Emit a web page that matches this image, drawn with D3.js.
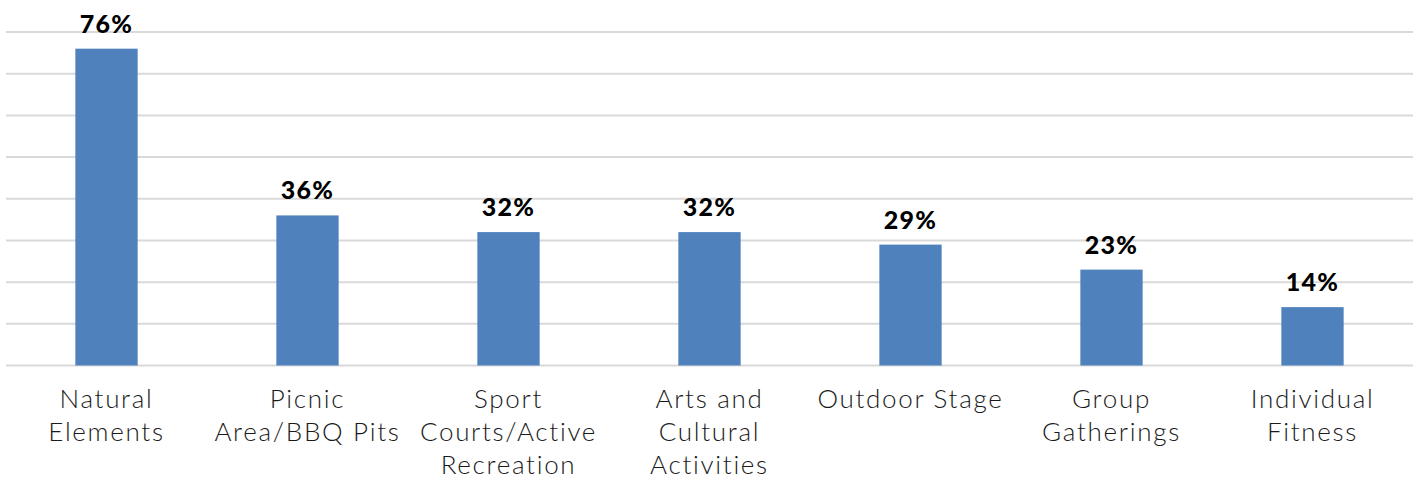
<!DOCTYPE html>
<html>
<head>
<meta charset="utf-8">
<script src="https://cdn.jsdelivr.net/npm/d3@7"></script>
<style>
  body { margin: 0; background: #fff; }
  svg text { font-family: "Lato", "Open Sans", sans-serif; }
</style>
</head>
<body>
<div id="chart"></div>
<script>
// categories, each as lines of the wrapped label
var categories = [
  ["Natural", "Elements"],
  ["Picnic", "Area/BBQ Pits"],
  ["Sport", "Courts/Active", "Recreation"],
  ["Arts and", "Cultural", "Activities"],
  ["Outdoor Stage"],
  ["Group", "Gatherings"],
  ["Individual", "Fitness"]
];
var values = [76, 36, 32, 32, 29, 23, 14];
var gridTicks = [0, 10, 20, 30, 40, 50, 60, 70, 80];

var w = 1422, h = 479;
var margin = { top: 32, right: 9, bottom: 113.5, left: 6 };

var svg = d3.select('#chart').append('svg')
  .attr('width', w)
  .attr('height', h);

var x = d3.scaleBand()
  .domain(d3.range(categories.length))
  .range([margin.left, w - margin.right])
  .paddingInner(0.69)
  .paddingOuter(0.345);

var y = d3.scaleLinear()
  .domain([0, 80])
  .range([h - margin.bottom, margin.top]);

// gridlines
svg.append('g')
  .selectAll('line')
  .data(gridTicks)
  .enter()
  .append('line')
    .attr('x1', margin.left)
    .attr('x2', w - margin.right)
    .attr('y1', function(d) { return y(d); })
    .attr('y2', function(d) { return y(d); })
    .attr('stroke', '#d9d9d9')
    .attr('stroke-width', 2);

// bars
svg.append('g')
  .selectAll('rect')
  .data(values)
  .enter()
  .append('rect')
    .attr('x', function(d, i) { return x(i); })
    .attr('y', function(d) { return y(d); })
    .attr('width', x.bandwidth())
    .attr('height', function(d) { return y(0) - y(d); })
    .attr('fill', '#4f81bd');

// value labels
svg.append('g')
  .selectAll('text')
  .data(values)
  .enter()
  .append('text')
    .attr('x', function(d, i) { return x(i) + x.bandwidth() / 2; })
    .attr('y', function(d) { return y(d) - 16; })
    .attr('text-anchor', 'middle')
    .attr('font-size', 25)
    .attr('font-weight', 900)
    .attr('letter-spacing', 1.2)
    .attr('fill', '#000')
    .text(function(d) { return d + '%'; });

// category labels
var cat = svg.append('g')
  .selectAll('text')
  .data(categories)
  .enter()
  .append('text')
    .attr('x', function(d, i) { return x(i) + x.bandwidth() / 2; })
    .attr('y', y(0) + 42)
    .attr('text-anchor', 'middle')
    .attr('font-size', 26)
    .attr('font-weight', 300)
    .attr('letter-spacing', 1.7)
    .attr('fill', '#1a1a1a');

cat.selectAll('tspan')
  .data(function(d) { return d; })
  .enter()
  .append('tspan')
    .attr('x', function() { return d3.select(this.parentNode).attr('x'); })
    .attr('dy', function(d, i) { return i === 0 ? 0 : 33; })
    .text(function(d) { return d; });
</script>
</body>
</html>
